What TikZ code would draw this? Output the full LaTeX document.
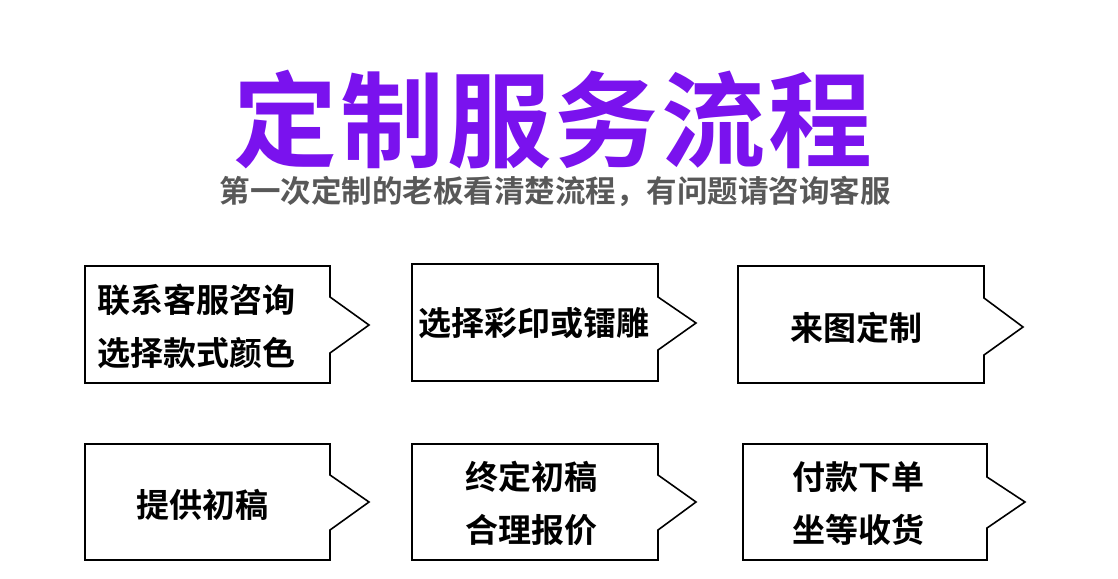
\documentclass[tikz,border=0pt]{standalone}
\usepackage{fontspec}
\newfontfamily\cjk{Noto Sans CJK SC}
\newfontfamily\cjkbold{Noto Sans CJK SC Bold}
\usetikzlibrary{calc, positioning}

\definecolor{titlepurple}{HTML}{7A12EE}
\definecolor{subgray}{HTML}{585858}

\tikzset{
  stepshape/.style={line width=1.6pt, line join=miter},
  steptext/.style={font=\cjkbold\fontsize{33}{33}\selectfont, align=left, text=black},
}

% one notched box: left, top, right, bottom, notch top, tip x, tip y, notch bottom
\newcommand{\notchbox}[9]{%
  \coordinate (#1-nw) at (#2,#3);
  \coordinate (#1-ne) at (#4,#3);
  \coordinate (#1-a) at (#4,#6);
  \coordinate (#1-tip) at (#7,#8);
  \coordinate (#1-b) at (#4,#9);
  \coordinate (#1-se) at (#4,#5);
  \coordinate (#1-sw) at (#2,#5);
  \draw[stepshape] (#1-nw) -- (#1-ne) -- (#1-a) -- (#1-tip) -- (#1-b) -- (#1-se) -- (#1-sw) -- cycle;
}

\begin{document}
\begin{tikzpicture}[x=1pt,y=-1pt]
\useasboundingbox (0,0) rectangle (1118,578);

% title
\node[font=\cjkbold\fontsize{104}{104}\selectfont\addfontfeature{LetterSpace=3}, text=titlepurple, inner sep=0pt] (title) at (553,120) {定制服务流程};
\node[font=\cjkbold\fontsize{30.5}{30.5}\selectfont, text=subgray, inner sep=0pt] (subtitle) at (555,191) {第一次定制的老板看清楚流程，有问题请咨询客服};

% top row
\notchbox{b1}{85}{266}{330}{383}{297}{369}{325}{353}
\notchbox{b2}{412}{264}{658}{381}{297}{696}{323}{350}
\notchbox{b3}{738}{266}{984}{383}{298}{1023}{327}{355}

% bottom row
\notchbox{b4}{85}{444}{330}{560}{475}{369}{502}{530}
\notchbox{b5}{412}{444}{658}{560}{475}{696}{502}{530}
\notchbox{b6}{743}{444}{987}{560}{477}{1025}{502}{528}

\node[steptext] (t1) at (196,326) {联系客服咨询\\[20pt]选择款式颜色};
\node[steptext] (t2) at (534,323) {选择彩印或镭雕};
\node[steptext] (t3) at (856,328) {来图定制};
\node[steptext] (t4) at (202,505) {提供初稿};
\node[steptext] (t5) at (531,503) {终定初稿\\[20pt]合理报价};
\node[steptext] (t6) at (858,504) {付款下单\\[20pt]坐等收货};
\end{tikzpicture}
\end{document}
